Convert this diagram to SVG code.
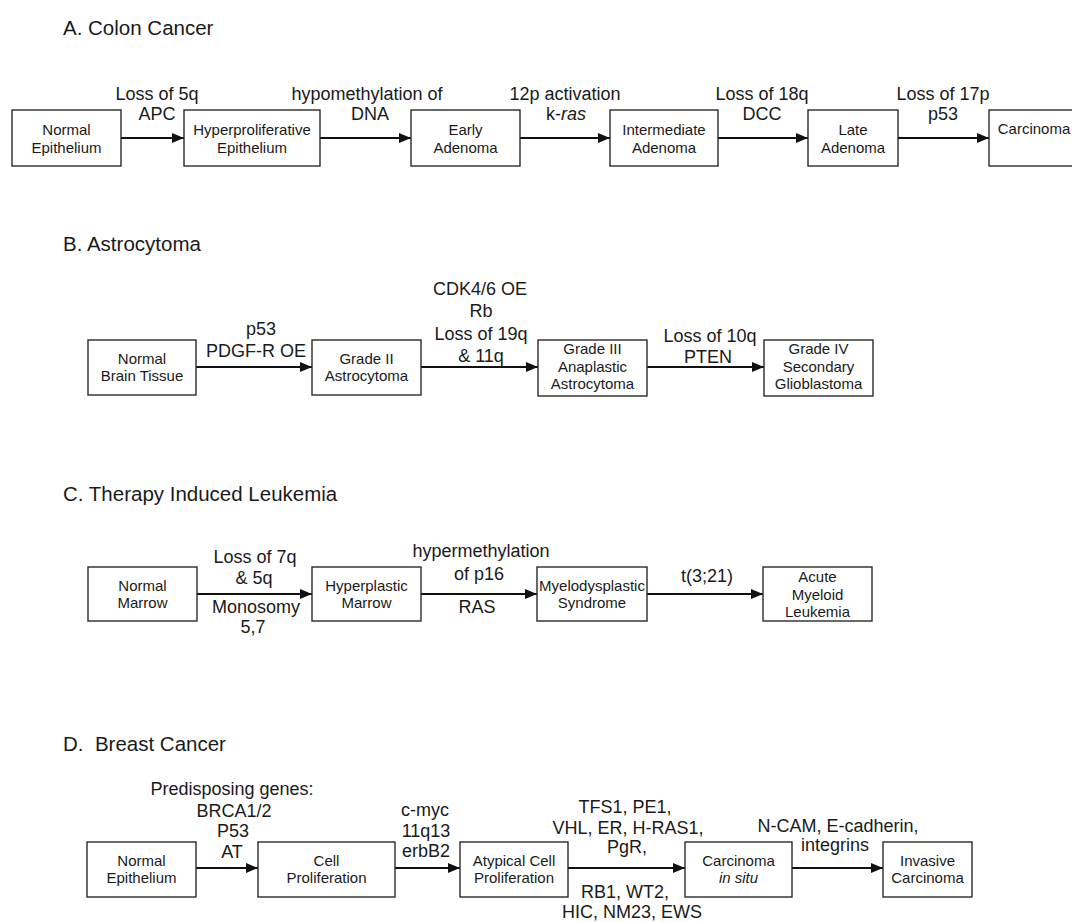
<svg xmlns="http://www.w3.org/2000/svg" width="1072" height="922" viewBox="0 0 1072 922">
<defs>
<style>
.bg{fill:#ffffff}
.box{fill:#ffffff;stroke:#2a2a2a;stroke-width:1.4}
.bt{font-family:"Liberation Sans",Arial,sans-serif;font-size:15px;fill:#1a1a1a;text-anchor:middle}
.lb{font-family:"Liberation Sans",Arial,sans-serif;font-size:18px;fill:#1a1a1a;text-anchor:middle}
.tt{font-family:"Liberation Sans",Arial,sans-serif;font-size:20.5px;fill:#1a1a1a}
.ar{stroke:#111111;stroke-width:2;fill:none;marker-end:url(#ah)}
</style>
<marker id="ah" markerWidth="12" markerHeight="10" refX="12" refY="5" orient="auto" markerUnits="userSpaceOnUse">
<path d="M0,0 L12,5 L0,10 z" fill="#111111"/>
</marker>
</defs>
<rect class="bg" x="0" y="0" width="1072" height="922"/>

<g id="titles">
<text class="tt" x="63" y="35">A. Colon Cancer</text>
<text class="tt" x="63" y="251">B. Astrocytoma</text>
<text class="tt" x="63" y="501">C. Therapy Induced Leukemia</text>
<text class="tt" x="63" y="751" xml:space="preserve">D.  Breast Cancer</text>
</g>

<g id="connectors">
<line class="ar" x1="121" y1="138" x2="184" y2="138"/>
<line class="ar" x1="320" y1="138" x2="411" y2="138"/>
<line class="ar" x1="520" y1="138" x2="610" y2="138"/>
<line class="ar" x1="718" y1="138" x2="808" y2="138"/>
<line class="ar" x1="898" y1="138" x2="989" y2="138"/>

<line class="ar" x1="196" y1="367" x2="312" y2="367"/>
<line class="ar" x1="421" y1="367" x2="538" y2="367"/>
<line class="ar" x1="647" y1="367" x2="764" y2="367"/>

<line class="ar" x1="197" y1="594" x2="312" y2="594"/>
<line class="ar" x1="421" y1="594" x2="537" y2="594"/>
<line class="ar" x1="647" y1="594" x2="763" y2="594"/>

<line class="ar" x1="196" y1="868" x2="258" y2="868"/>
<line class="ar" x1="395" y1="868" x2="460" y2="868"/>
<line class="ar" x1="568" y1="868" x2="685" y2="868"/>
<line class="ar" x1="792" y1="868" x2="883" y2="868"/>
</g>

<g id="labels">
<text class="lb" x="157" y="100">Loss of 5q</text>
<text class="lb" x="157" y="120">APC</text>
<text class="lb" x="367" y="100">hypomethylation of</text>
<text class="lb" x="370" y="120">DNA</text>
<text class="lb" x="565" y="100">12p activation</text>
<text class="lb" x="566" y="120">k-<tspan font-style="italic">ras</tspan></text>
<text class="lb" x="762" y="100">Loss of 18q</text>
<text class="lb" x="762" y="120">DCC</text>
<text class="lb" x="943" y="100">Loss of 17p</text>
<text class="lb" x="943" y="120">p53</text>

<text class="lb" x="261" y="335">p53</text>
<text class="lb" x="256" y="357">PDGF-R OE</text>
<text class="lb" x="480" y="295">CDK4/6 OE</text>
<text class="lb" x="481" y="317">Rb</text>
<text class="lb" x="481" y="340">Loss of 19q</text>
<text class="lb" x="481" y="362">&amp; 11q</text>
<text class="lb" x="710" y="342">Loss of 10q</text>
<text class="lb" x="708" y="363">PTEN</text>

<text class="lb" x="255" y="563">Loss of 7q</text>
<text class="lb" x="254" y="584">&amp; 5q</text>
<text class="lb" x="256" y="613">Monosomy</text>
<text class="lb" x="253" y="633">5,7</text>
<text class="lb" x="481" y="557">hypermethylation</text>
<text class="lb" x="479" y="580">of p16</text>
<text class="lb" x="477" y="613">RAS</text>
<text class="lb" x="707" y="582">t(3;21)</text>

<text class="lb" x="232" y="795">Predisposing genes:</text>
<text class="lb" x="234" y="817">BRCA1/2</text>
<text class="lb" x="233" y="837">P53</text>
<text class="lb" x="232" y="858">AT</text>
<text class="lb" x="425" y="816">c-myc</text>
<text class="lb" x="426" y="837">11q13</text>
<text class="lb" x="426" y="857">erbB2</text>
<text class="lb" x="625" y="813">TFS1, PE1,</text>
<text class="lb" x="628" y="834">VHL, ER, H-RAS1,</text>
<text class="lb" x="627" y="853">PgR,</text>
<text class="lb" x="625" y="898">RB1, WT2,</text>
<text class="lb" x="632" y="918">HIC, NM23, EWS</text>
<text class="lb" x="838" y="832">N-CAM, E-cadherin,</text>
<text class="lb" x="835" y="851">integrins</text>
</g>

<g id="A1"><rect class="box" x="12" y="110" width="109" height="56"/><text class="bt" x="66.5" y="135">Normal</text><text class="bt" x="66.5" y="152.5">Epithelium</text></g>
<g id="A2"><rect class="box" x="184" y="110" width="136" height="56"/><text class="bt" x="252" y="135">Hyperproliferative</text><text class="bt" x="252" y="152.5">Epithelium</text></g>
<g id="A3"><rect class="box" x="411" y="110" width="109" height="56"/><text class="bt" x="465.5" y="135">Early</text><text class="bt" x="465.5" y="152.5">Adenoma</text></g>
<g id="A4"><rect class="box" x="610" y="110" width="108" height="56"/><text class="bt" x="664" y="135">Intermediate</text><text class="bt" x="664" y="152.5">Adenoma</text></g>
<g id="A5"><rect class="box" x="808" y="110" width="90" height="56"/><text class="bt" x="853" y="135">Late</text><text class="bt" x="853" y="152.5">Adenoma</text></g>
<g id="A6"><rect class="box" x="989" y="110" width="110" height="56"/><text class="bt" x="1034" y="134">Carcinoma</text></g>

<g id="B1"><rect class="box" x="88" y="340" width="108" height="55"/><text class="bt" x="142" y="364">Normal</text><text class="bt" x="142" y="381">Brain Tissue</text></g>
<g id="B2"><rect class="box" x="312" y="340" width="109" height="55"/><text class="bt" x="366.5" y="364">Grade II</text><text class="bt" x="366.5" y="381">Astrocytoma</text></g>
<g id="B3"><rect class="box" x="538" y="340" width="109" height="56"/><text class="bt" x="592.5" y="354">Grade III</text><text class="bt" x="592.5" y="371.5">Anaplastic</text><text class="bt" x="592.5" y="389">Astrocytoma</text></g>
<g id="B4"><rect class="box" x="764" y="340" width="109" height="56"/><text class="bt" x="818.5" y="354">Grade IV</text><text class="bt" x="818.5" y="371.5">Secondary</text><text class="bt" x="818.5" y="389">Glioblastoma</text></g>

<g id="C1"><rect class="box" x="88" y="567" width="109" height="54"/><text class="bt" x="142.5" y="590.5">Normal</text><text class="bt" x="142.5" y="607.5">Marrow</text></g>
<g id="C2"><rect class="box" x="312" y="567" width="109" height="54"/><text class="bt" x="366.5" y="590.5">Hyperplastic</text><text class="bt" x="366.5" y="607.5">Marrow</text></g>
<g id="C3"><rect class="box" x="537" y="567" width="110" height="54"/><text class="bt" x="592" y="590.5">Myelodysplastic</text><text class="bt" x="592" y="607.5">Syndrome</text></g>
<g id="C4"><rect class="box" x="763" y="567" width="109" height="54"/><text class="bt" x="817.5" y="582">Acute</text><text class="bt" x="817.5" y="599.5">Myeloid</text><text class="bt" x="817.5" y="617">Leukemia</text></g>

<g id="D1"><rect class="box" x="87" y="842" width="109" height="55"/><text class="bt" x="141.5" y="866">Normal</text><text class="bt" x="141.5" y="883">Epithelium</text></g>
<g id="D2"><rect class="box" x="258" y="842" width="137" height="55"/><text class="bt" x="326.5" y="866">Cell</text><text class="bt" x="326.5" y="883">Proliferation</text></g>
<g id="D3"><rect class="box" x="460" y="842" width="108" height="55"/><text class="bt" x="514" y="866">Atypical Cell</text><text class="bt" x="514" y="883">Proliferation</text></g>
<g id="D4"><rect class="box" x="685" y="842" width="107" height="55"/><text class="bt" x="738.5" y="866">Carcinoma</text><text class="bt" x="738.5" y="883" font-style="italic">in situ</text></g>
<g id="D5"><rect class="box" x="883" y="842" width="89" height="55"/><text class="bt" x="927.5" y="866">Invasive</text><text class="bt" x="927.5" y="883">Carcinoma</text></g>
</svg>
